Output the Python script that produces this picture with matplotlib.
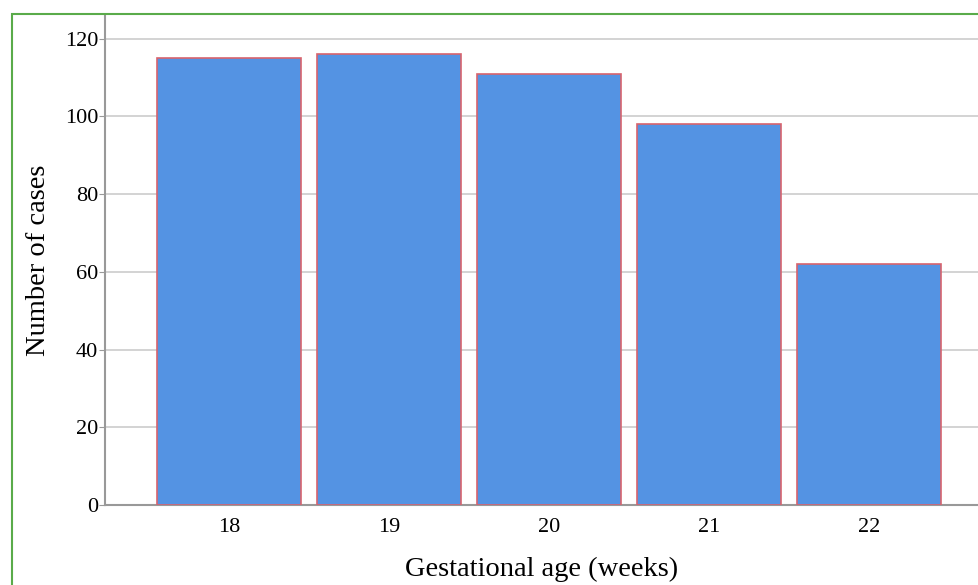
import matplotlib.pyplot as plt
from matplotlib.patches import Rectangle

# gestational age vs number of cases
weeks = [18, 19, 20, 21, 22]
cases = [115, 116, 111, 98, 62]
yticks = [0, 20, 40, 60, 80, 100, 120]

plt.rcParams['font.family'] = ['Liberation Serif', 'DejaVu Serif']

fig = plt.figure(figsize=(9.79, 5.85), dpi=100)
W, H = 979, 585
# axes box in pixels: left 105, bottom 505, top 15, right past the edge
ax = fig.add_axes([105 / W, (H - 505) / H, (979 - 105) / W, (505 - 15) / H])

ax.bar(weeks, cases, width=0.9, color='#5493e3', edgecolor='#d8636d', linewidth=1.2, zorder=3)

ax.set_xlim(17.225, 22.69)
ax.set_ylim(0, 126.1)
ax.set_xticks(weeks)
ax.set_yticks(yticks)
ax.tick_params(axis='x', length=0, pad=9, labelsize=16)
ax.tick_params(axis='y', length=4, color='#999999', pad=1, labelsize=16)
ax.grid(axis='y', color='#cccccc', linewidth=1.2, zorder=0)

for s in ['top', 'right']:
    ax.spines[s].set_visible(False)
for s in ['left', 'bottom']:
    ax.spines[s].set_color('#999999')
    ax.spines[s].set_linewidth(1.5)

ax.set_xlabel('Gestational age (weeks)', fontsize=20.5, labelpad=15)
ax.set_ylabel('Number of cases', fontsize=20.5, labelpad=10)

# green frame around the whole thing (cropped on right and bottom)
fig.patches.append(Rectangle((12 / W, -0.1), 1.2, (H - 14) / H + 0.1,
                             transform=fig.transFigure, fill=False,
                             edgecolor='#5aab4a', linewidth=1.5, zorder=0))

fig.savefig('out.png', dpi=100)
